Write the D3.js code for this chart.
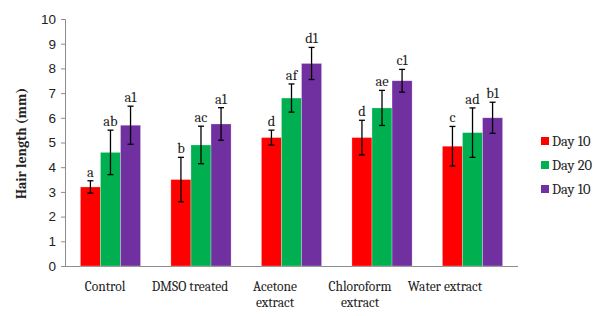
<!DOCTYPE html>
<html>
<head>
<meta charset="utf-8">
<script src="https://cdn.jsdelivr.net/npm/d3@7"></script>
<style>
  body { margin: 0; background: #fff; }
  svg { display: block; font-family: Cambria, "Liberation Serif", "DejaVu Serif", serif; }
</style>
</head>
<body>
<div id="chart"></div>
<script>
const categories = [["Control"], ["DMSO treated"], ["Acetone", "extract"], ["Chloroform", "extract"], ["Water extract"]];
const seriesNames = ["Day 10", "Day 20", "Day 10"];
const colors = ["#FF0000", "#00B050", "#7030A0"];
const means = [
  [3.2, 4.6, 5.7],
  [3.5, 4.9, 5.75],
  [5.2, 6.8, 8.2],
  [5.2, 6.4, 7.5],
  [4.85, 5.4, 6.0]
];
const errors = [
  [0.25, 0.9, 0.77],
  [0.9, 0.76, 0.66],
  [0.3, 0.57, 0.65],
  [0.7, 0.71, 0.46],
  [0.8, 1.0, 0.63]
];
const letters = [
  ["a", "ab", "a1"],
  ["b", "ac", "a1"],
  ["d", "af", "d1"],
  ["d", "ae", "c1"],
  ["c", "ad", "b1"]
];
const yTicks = d3.range(0, 11);

const width = 600, height = 316;
const x0 = 65, x1 = 518, yTop = 19, yBot = 266;

const svg = d3.select("#chart").append("svg").attr("width", width).attr("height", height);

const x = d3.scaleBand().domain(d3.range(categories.length)).range([x0, x1]).paddingInner(0.335).paddingOuter(0.17);
const xs = d3.scaleBand().domain(d3.range(seriesNames.length)).range([0, x.bandwidth()]);
// category labels sit on a slightly narrower band than the bars
const xLab = d3.scaleBand().domain(d3.range(categories.length)).range([62.5, 487.5]);
const y = d3.scaleLinear().domain([0, 10]).range([yBot, yTop]);

// y axis
const yAxis = svg.append("g").attr("transform", `translate(${x0},0)`)
  .call(d3.axisLeft(y).tickValues(yTicks).tickSize(4).tickPadding(5));
yAxis.select(".domain").attr("stroke", "#8c8c8c");
yAxis.selectAll(".tick line").attr("stroke", "#8c8c8c");
yAxis.selectAll("text").attr("font-size", 13.5).attr("fill", "#222").attr("font-family", null);

// x axis line
svg.append("line").attr("x1", x0).attr("x2", x1).attr("y1", yBot + 0.5).attr("y2", yBot + 0.5)
  .attr("stroke", "#8c8c8c");

// bars
const groups = svg.append("g").selectAll("g").data(means).join("g")
  .attr("transform", (d, i) => `translate(${x(i)},0)`);

groups.selectAll("rect").data(d => d).join("rect")
  .attr("x", (d, j) => xs(j))
  .attr("y", d => y(d))
  .attr("width", xs.bandwidth())
  .attr("height", d => yBot - y(d))
  .attr("fill", (d, j) => colors[j])
  .attr("stroke", "rgba(255,255,255,0.45)")
  .attr("stroke-width", 0.6);

// error bars
groups.each(function(row, i) {
  const g = d3.select(this);
  row.forEach((m, j) => {
    const cx = xs(j) + xs.bandwidth() / 2;
    const hi = y(m + errors[i][j]), lo = y(m - errors[i][j]);
    const eb = g.append("g").attr("stroke", "#000").attr("stroke-width", 1.3);
    eb.append("line").attr("x1", cx).attr("x2", cx).attr("y1", hi).attr("y2", lo);
    eb.append("line").attr("x1", cx - 3).attr("x2", cx + 3).attr("y1", hi).attr("y2", hi);
    eb.append("line").attr("x1", cx - 3).attr("x2", cx + 3).attr("y1", lo).attr("y2", lo);
    g.append("text").attr("x", cx).attr("y", hi - 4)
      .attr("text-anchor", "middle").attr("font-size", 14.5).attr("fill", "#222")
      .text(letters[i][j]);
  });
});

// category labels
categories.forEach((lines, i) => {
  const t = svg.append("text").attr("text-anchor", "middle").attr("font-size", 13.5).attr("fill", "#222");
  lines.forEach((ln, k) => {
    t.append("tspan").attr("x", xLab(i) + xLab.bandwidth() / 2).attr("y", 291 + k * 16).text(ln);
  });
});

// y title
svg.append("text")
  .attr("transform", `translate(26,${(yTop + yBot) / 2 + 1}) rotate(-90)`)
  .attr("text-anchor", "middle").attr("font-size", 14).attr("font-weight", "bold").attr("fill", "#222")
  .text("Hair length (mm)");

// legend
const legend = svg.append("g").selectAll("g").data(seriesNames).join("g")
  .attr("transform", (d, j) => `translate(541,${141 + j * 24})`);
legend.append("rect").attr("x", 0).attr("y", -4).attr("width", 8).attr("height", 8)
  .attr("fill", (d, j) => colors[j]);
legend.append("text").attr("x", 11).attr("y", 5).attr("font-size", 14.5).attr("fill", "#222").text(d => d);
</script>
</body>
</html>
